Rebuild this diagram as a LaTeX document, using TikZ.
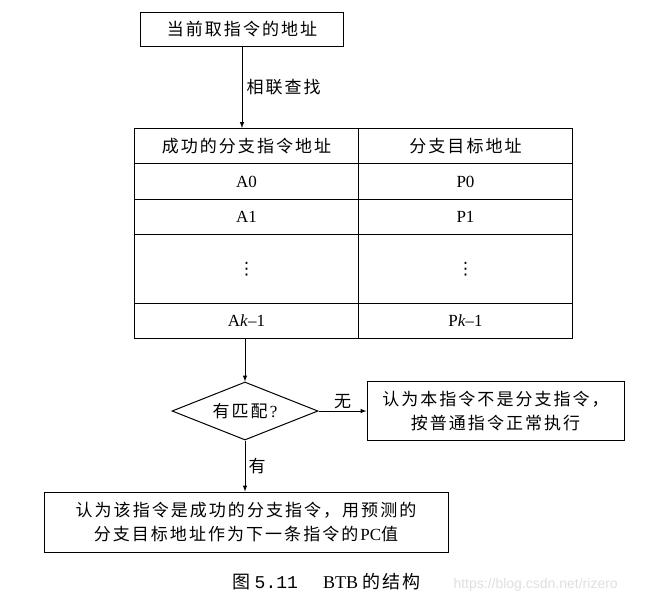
\documentclass[tikz,border=0pt]{standalone}
\usepackage{fontspec}
\setmainfont{Liberation Serif}
\setsansfont{Liberation Sans}
\setmonofont{Liberation Mono}
\newfontfamily\zh[LetterSpace=12]{Noto Sans CJK SC}
\newfontfamily\symfont{DejaVu Sans}
\usepackage{tikz}
\usetikzlibrary{arrows,shapes.geometric}
\newcommand{\zhfont}{\zh\fontsize{17}{24}\selectfont}
\newcommand{\enfont}{\fontsize{17}{22}\selectfont}
\newcommand{\vdotsym}{{\symfont\fontsize{17}{20}\selectfont ⋮}}

\begin{document}
\begin{tikzpicture}[x=1pt,y=-1pt,
	box/.style={draw, line width=1pt, inner sep=0pt, align=center, font=\zhfont},
	cell/.style={draw, line width=1pt, inner sep=0pt, anchor=north west},
	flow/.style={->, >=latex, line width=1pt},
	lbl/.style={font=\zhfont, inner sep=1pt}]
		\useasboundingbox (0,0) rectangle (645,603);
		% address box
		\node[box, minimum width=203pt, minimum height=34pt] (addr) at (242,29) {当前取指令的地址};
		% BTB table
		\node[cell, minimum width=224pt, minimum height=35pt, font=\zhfont] (h1) at (134,128) {成功的分支指令地址};
		\node[cell, minimum width=214pt, minimum height=35pt, font=\zhfont] (h2) at (358,128) {分支目标地址};
		\node[cell, minimum width=224pt, minimum height=36pt, font=\enfont] (a0) at (134,163) {A0};
		\node[cell, minimum width=214pt, minimum height=36pt, font=\enfont] (p0) at (358,163) {P0};
		\node[cell, minimum width=224pt, minimum height=35pt, font=\enfont] (a1) at (134,199) {A1};
		\node[cell, minimum width=214pt, minimum height=35pt, font=\enfont] (p1) at (358,199) {P1};
		\node[cell, minimum width=224pt, minimum height=69pt] (ad) at (134,234) {\vdotsym};
		\node[cell, minimum width=214pt, minimum height=69pt] (pd) at (358,234) {\vdotsym};
		\node[cell, minimum width=224pt, minimum height=35pt, font=\enfont] (ak) at (134,303) {A\textit{k}--1};
		\node[cell, minimum width=214pt, minimum height=35pt, font=\enfont] (pk) at (358,303) {P\textit{k}--1};
		% decision
		\node[diamond, draw, line width=1pt, inner sep=0pt, aspect=2.5, minimum width=146pt, minimum height=58pt, font=\zhfont] (match) at (245,411) {有匹配\textrm{?}};
		\node[box, minimum width=257pt, minimum height=59pt] (nobr) at (495.5,411) {认为本指令不是分支指令，\\按普通指令正常执行};
		\node[box, minimum width=404pt, minimum height=60pt] (isbr) at (246,522) {认为该指令是成功的分支指令，用预测的\\分支目标地址作为下一条指令的\textrm{PC}值};
		% connectors
		\draw[flow] (addr.south) -- (addr.south |- h1.north) node[midway, right, lbl, xshift=3pt] {相联查找};
		\draw[flow] (match.north |- ak.south) -- (match.north);
		\draw[flow] (match.east) -- (nobr.west) node[midway, above, lbl, yshift=1pt] {无};
		\draw[flow] (match.south) -- (match.south |- isbr.north) node[midway, right, lbl, xshift=2pt] {有};
		% caption
		\node[font=\fontsize{18}{22}\selectfont, anchor=west, inner sep=0pt] (cap) at (232,582) {{\zh 图} {\ttfamily 5.11}\hspace{1.4em}BTB {\zh\fontsize{18}{22}\selectfont 的结构}};
		\node[font=\sffamily\fontsize{14}{18}\selectfont, text=gray!25, anchor=west] (wm) at (450,585) {https://blog.csdn.net/rizero};
	\end{tikzpicture}
\end{document}
